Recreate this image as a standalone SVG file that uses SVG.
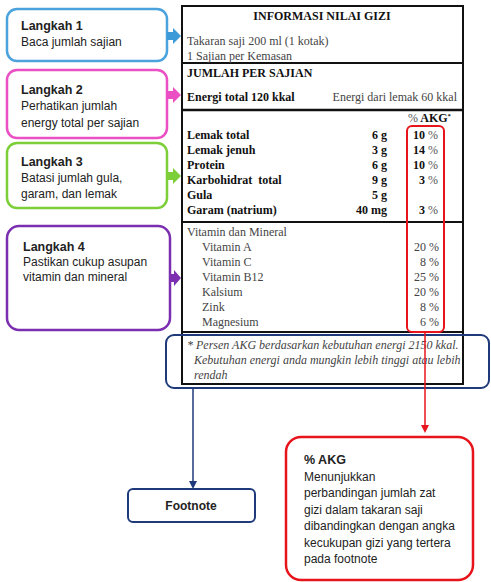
<svg xmlns="http://www.w3.org/2000/svg" width="491" height="582" viewBox="0 0 491 582">
<style>
.sans{font-family:"Liberation Sans",Arial,sans-serif;fill:#222;font-size:12px}
.st{font-weight:bold;font-size:12.5px}
.ser{font-family:"Liberation Serif","Times New Roman",serif;font-size:12px;fill:#444}
.b{font-weight:bold;fill:#111}
.r{text-anchor:end}
.it{font-style:italic}
.box{fill:#fff;stroke-width:2.5}
</style>
<rect width="491" height="582" fill="#fff"/>
<g id="table">
<rect x="182" y="6" width="281" height="378" fill="#fff" stroke="#111" stroke-width="2"/>
<line x1="182" y1="63" x2="463" y2="63" stroke="#111" stroke-width="2"/>
<line x1="182" y1="110" x2="463" y2="110" stroke="#111" stroke-width="2.5"/>
<line x1="182" y1="222" x2="463" y2="222" stroke="#111" stroke-width="2"/>
<line x1="182" y1="332" x2="463" y2="332" stroke="#111" stroke-width="2"/>
<text class="ser b" x="322" y="20" text-anchor="middle" font-size="11.2">INFORMASI NILAI GIZI</text>
<text class="ser" x="187" y="45">Takaran saji 200 ml (1 kotak)</text>
<text class="ser" x="187" y="60">1 Sajian per Kemasan</text>
<text class="ser b" x="187" y="77">JUMLAH PER SAJIAN</text>
<text class="ser b" x="187" y="101">Energi total 120 kkal</text>
<text class="ser r" x="457" y="101">Energi dari lemak 60 kkal</text>
<text class="ser b" x="408" y="122" font-size="10"><tspan font-weight="normal" fill="#555">%</tspan> AKG<tspan font-size="6" dy="-4">*</tspan></text>
<g class="ser b">
<text x="187" y="139">Lemak total</text>
<text x="187" y="154">Lemak jenuh</text>
<text x="187" y="169">Protein</text>
<text x="187" y="184">Karbohidrat&#160; total</text>
<text x="187" y="199">Gula</text>
<text x="187" y="214">Garam (natrium)</text>
<text class="r" x="387" y="139">6 g</text>
<text class="r" x="387" y="154">3 g</text>
<text class="r" x="387" y="169">6 g</text>
<text class="r" x="387" y="184">9 g</text>
<text class="r" x="387" y="199">5 g</text>
<text class="r" x="387" y="214">40 mg</text>
<text class="r" x="438" y="139">10 <tspan font-weight="normal" fill="#555">%</tspan></text>
<text class="r" x="438" y="154">14 <tspan font-weight="normal" fill="#555">%</tspan></text>
<text class="r" x="438" y="169">10 <tspan font-weight="normal" fill="#555">%</tspan></text>
<text class="r" x="438" y="184">3 <tspan font-weight="normal" fill="#555">%</tspan></text>
<text class="r" x="438" y="214">3 <tspan font-weight="normal" fill="#555">%</tspan></text>
</g>
<g class="ser">
<text x="187" y="236">Vitamin dan Mineral</text>
<text x="202" y="251">Vitamin A</text>
<text x="202" y="266">Vitamin C</text>
<text x="202" y="281">Vitamin B12</text>
<text x="202" y="296">Kalsium</text>
<text x="202" y="311">Zink</text>
<text x="202" y="326">Magnesium</text>
<text class="r" x="439" y="251">20 %</text>
<text class="r" x="439" y="266">8 %</text>
<text class="r" x="439" y="281">25 %</text>
<text class="r" x="439" y="296">20 %</text>
<text class="r" x="439" y="311">8 %</text>
<text class="r" x="439" y="326">6 %</text>
<text class="it" x="187" y="349">* Persen AKG berdasarkan kebutuhan energi 2150 kkal.</text>
<text class="it" x="194" y="364">Kebutuhan energi anda mungkin lebih tinggi atau lebih</text>
<text class="it" x="194" y="379">rendah</text>
</g>
</g>
<g id="akg-highlight">
<rect x="407" y="126" width="37" height="206" rx="5" fill="none" stroke="#e8141c" stroke-width="2"/>
</g>
<g id="footnote-highlight">
<rect x="166" y="335" width="323" height="53" rx="8" fill="none" stroke="#1f3a7a" stroke-width="2"/>
</g>
<g id="langkah1">
<rect class="box" x="7" y="9" width="160" height="52" rx="10" stroke="#4ba3de"/>
<text class="sans st" x="21" y="30">Langkah 1</text>
<text class="sans" x="21" y="46">Baca jumlah sajian</text>
</g>
<g id="langkah2">
<rect class="box" x="7" y="70" width="160" height="68" rx="10" stroke="#ea4fc3"/>
<text class="sans st" x="21" y="94">Langkah 2</text>
<text class="sans" x="21" y="110">Perhatikan jumlah</text>
<text class="sans" x="21" y="127">energy total per sajian</text>
</g>
<g id="langkah3">
<rect class="box" x="7" y="143" width="160" height="65" rx="10" stroke="#7dcf3a"/>
<text class="sans st" x="21" y="166">Langkah 3</text>
<text class="sans" x="21" y="182">Batasi jumlah gula,</text>
<text class="sans" x="21" y="198">garam, dan lemak</text>
</g>
<g id="langkah4">
<rect class="box" x="7" y="226" width="163" height="104" rx="12" stroke="#7b2fb0"/>
<text class="sans st" x="23" y="251">Langkah 4</text>
<text class="sans" x="23" y="266">Pastikan cukup asupan</text>
<text class="sans" x="23" y="281">vitamin dan mineral</text>
</g>
<g id="footnote">
<rect x="128" y="489" width="127" height="33" rx="5" fill="#fff" stroke="#1f3a7a" stroke-width="2"/>
<text class="sans" x="191" y="510" text-anchor="middle" font-weight="bold">Footnote</text>
</g>
<g id="akg-note">
<rect x="286" y="437" width="187" height="143" rx="15" fill="#fff" stroke="#e8141c" stroke-width="2.5"/>
<text class="sans st" x="304" y="464">% AKG</text>
<text class="sans" x="304" y="481">Menunjukkan</text>
<text class="sans" x="304" y="497">perbandingan jumlah zat</text>
<text class="sans" x="304" y="514">gizi dalam takaran saji</text>
<text class="sans" x="304" y="530">dibandingkan dengan angka</text>
<text class="sans" x="304" y="547">kecukupan gizi yang tertera</text>
<text class="sans" x="304" y="563">pada footnote</text>
</g>
<g id="connectors">
<polygon points="167,32 173,32 173,28 181,36 173,44 173,40 167,40" fill="#3d9ad8"/>
<polygon points="167,91 173,91 173,87 181,95 173,103 173,99 167,99" fill="#ea4fc3"/>
<polygon points="167,172 173,172 173,168 181,176 173,184 173,180 167,180" fill="#7dcf3a"/>
<polygon points="170,274 174,274 174,270 181,278 174,286 174,282 170,282" fill="#7b2fb0"/>
<line x1="425" y1="332" x2="425" y2="426" stroke="#e8141c" stroke-width="1.5"/>
<polygon points="421,425 429,425 425,433" fill="#e8141c"/>
<line x1="193" y1="388" x2="193" y2="482" stroke="#1f3a7a" stroke-width="1.5"/>
<polygon points="189,481 197,481 193,489" fill="#1f3a7a"/>
</g>
</svg>
